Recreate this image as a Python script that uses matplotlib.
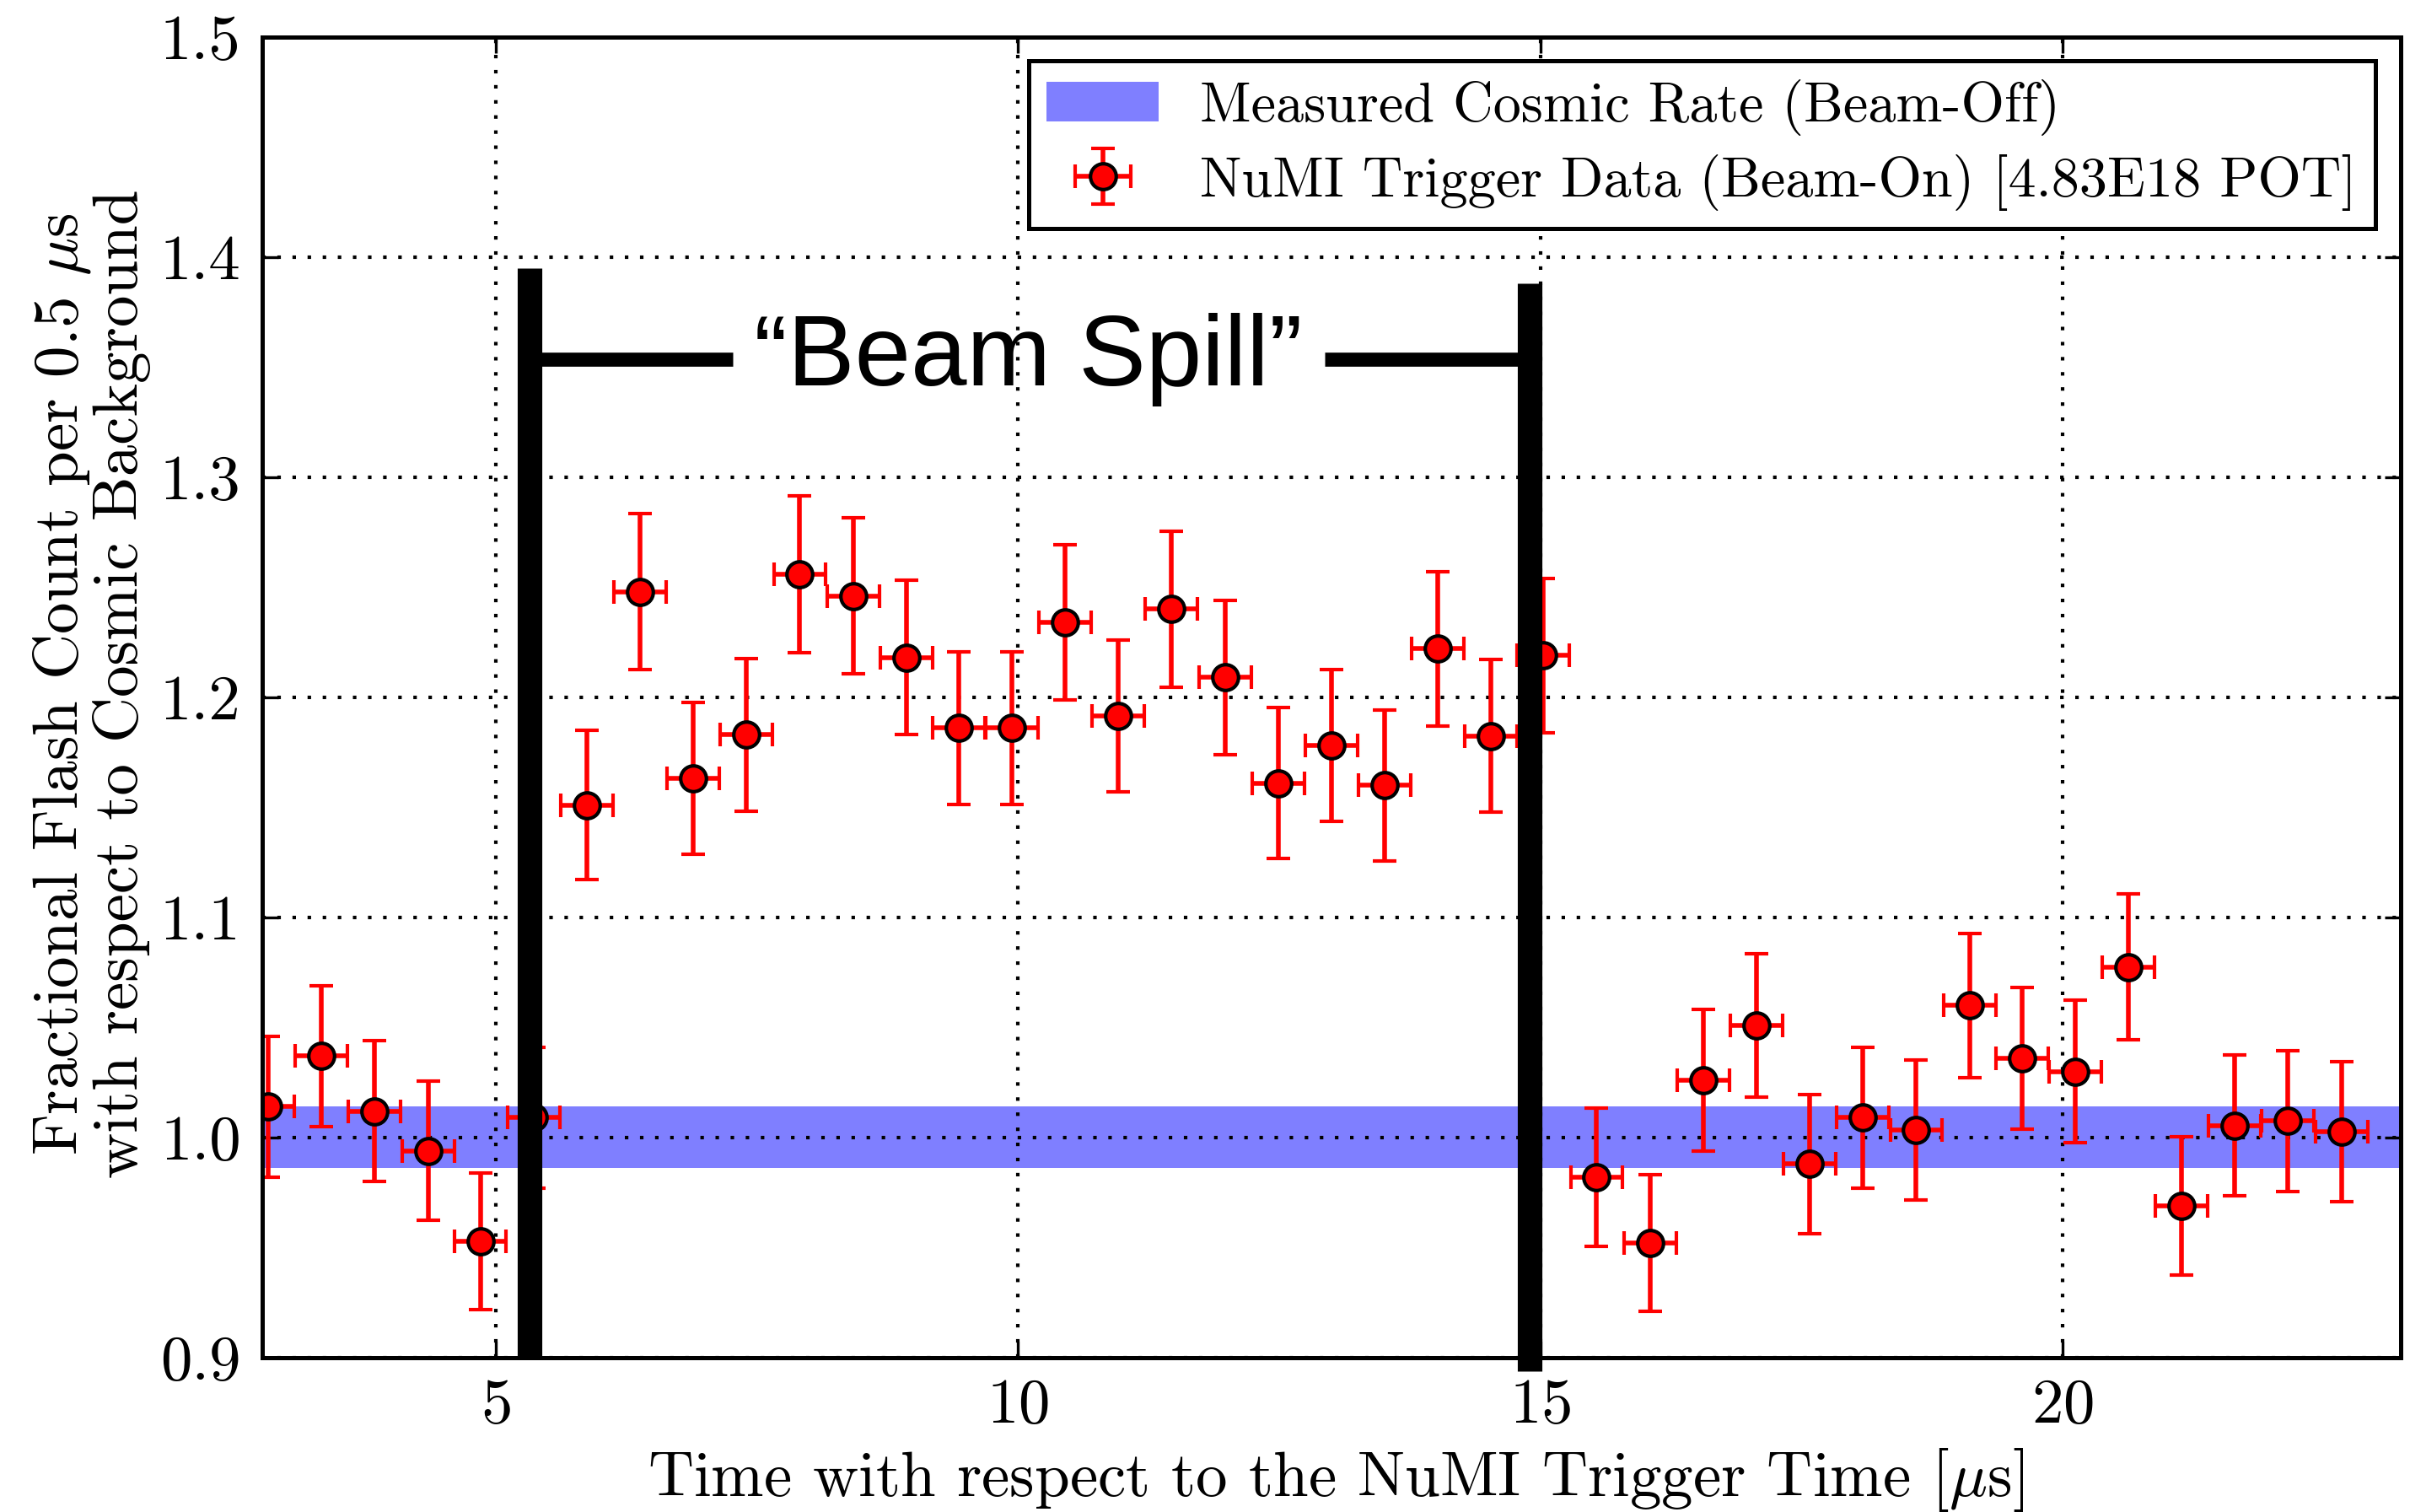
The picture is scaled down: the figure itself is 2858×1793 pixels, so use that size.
import numpy as np
import matplotlib
matplotlib.use("Agg")
import matplotlib.pyplot as plt

plt.rcParams['font.family'] = ['cmr10', 'DejaVu Serif']
plt.rcParams['mathtext.fontset'] = 'cm'
plt.rcParams['axes.formatter.use_mathtext'] = True

# bin centres [us], fractional flash count and uncertainties
t_us = [2.82, 3.33, 3.84, 4.35, 4.85, 5.36, 5.87, 6.38, 6.89, 7.40,
        7.91, 8.42, 8.93, 9.43, 9.94, 10.45, 10.96, 11.47, 11.98, 12.49,
        13.00, 13.51, 14.02, 14.53, 15.03, 15.54, 16.05, 16.56, 17.07, 17.58,
        18.09, 18.60, 19.11, 19.61, 20.12, 20.63, 21.14, 21.65, 22.16, 22.67]
frac = [1.014, 1.037, 1.012, 0.994, 0.953, 1.009, 1.151, 1.248, 1.163, 1.183,
        1.256, 1.246, 1.218, 1.186, 1.186, 1.234, 1.1915, 1.240, 1.209, 1.161,
        1.178, 1.160, 1.222, 1.1825, 1.219, 0.982, 0.952, 1.026, 1.051, 0.988,
        1.009, 1.0035, 1.060, 1.036, 1.030, 1.0775, 0.969, 1.0055, 1.0075, 1.0025]
frac_err = [0.032, 0.032, 0.032, 0.0317, 0.031, 0.032, 0.034, 0.0355, 0.0345, 0.0347,
            0.0356, 0.0354, 0.035, 0.0347, 0.0347, 0.0352, 0.0346, 0.0354, 0.035, 0.0342,
            0.0345, 0.0342, 0.035, 0.0345, 0.035, 0.0315, 0.031, 0.0323, 0.0326, 0.0316,
            0.032, 0.0318, 0.0327, 0.0323, 0.0323, 0.033, 0.0314, 0.0319, 0.0319, 0.0318]
t_halfwidth = 0.25

cosmic_rate = 1.0
cosmic_err = 0.014

spill_start = 5.323
spill_end = 14.895

xticks = [5, 10, 15, 20]
yticks = [0.9, 1.0, 1.1, 1.2, 1.3, 1.4, 1.5]
ytick_labels = ['0.9', '1.0', '1.1', '1.2', '1.3', '1.4', '1.5']

fig = plt.figure(figsize=(14.29, 8.965), dpi=200)
ax = fig.add_axes([0.1087, 0.1021, 0.8875, 0.8735])

ax.axhspan(cosmic_rate - cosmic_err, cosmic_rate + cosmic_err, color='blue',
           alpha=0.5, lw=0, zorder=1, label='Measured Cosmic Rate (Beam-Off)')

ax.errorbar(t_us, frac, xerr=t_halfwidth, yerr=frac_err, fmt='o', color='red',
            mfc='red', mec='black', mew=1.5, ms=11, ecolor='red', elinewidth=2,
            capsize=5, capthick=2, zorder=3,
            label='NuMI Trigger Data (Beam-On) [4.83E18 POT]')

# beam spill marker
ax.plot([spill_start, spill_start], [0.9, 1.395], color='black', lw=10.5,
        solid_capstyle='butt', zorder=5)
ax.plot([spill_end, spill_end], [0.894, 1.388], color='black', lw=10.5,
        solid_capstyle='butt', zorder=5, clip_on=False)
ax.plot([spill_start, 7.27], [1.3535, 1.3535], color='black', lw=6,
        solid_capstyle='butt', zorder=5)
ax.plot([12.94, spill_end], [1.3535, 1.3535], color='black', lw=6,
        solid_capstyle='butt', zorder=5)
ax.text(10.1, 1.3535, '\u201cBeam Spill\u201d', ha='center', va='center',
        fontsize=43, family=['Liberation Sans', 'DejaVu Sans'], zorder=6)

ax.set_xlim(2.76, 23.24)
ax.set_ylim(0.9, 1.5)
ax.set_xticks(xticks)
ax.set_yticks(yticks)
ax.set_yticklabels(ytick_labels)
ax.tick_params(direction='in', length=7, width=1.2, labelsize=27, pad=9,
               top=True, right=True)
ax.grid(True, color='black', linestyle=(0, (1, 3.3)), lw=1.5, zorder=2)
ax.set_axisbelow(False)
for s in ax.spines.values():
    s.set_linewidth(1.8)
    s.set_zorder(4)

ax.set_xlabel(r'Time with respect to the NuMI Trigger Time [$\mu$s]', fontsize=27)
ax.xaxis.set_label_coords(0.502, -0.067)
ax.set_ylabel('Fractional Flash Count per 0.5 $\\mu$s\nwith respect to Cosmic Background',
              fontsize=27, linespacing=1.0)
ax.yaxis.set_label_coords(-0.052, 0.51)

leg = ax.legend(loc='upper right', bbox_to_anchor=(0.988, 0.982), borderaxespad=0,
                fontsize=23.8, fancybox=False, framealpha=1, edgecolor='black',
                handlelength=2.0, handletextpad=0.75, borderpad=0.33,
                labelspacing=0.33)
leg.get_frame().set_linewidth(1.8)

fig.savefig('out.png', dpi=200)
